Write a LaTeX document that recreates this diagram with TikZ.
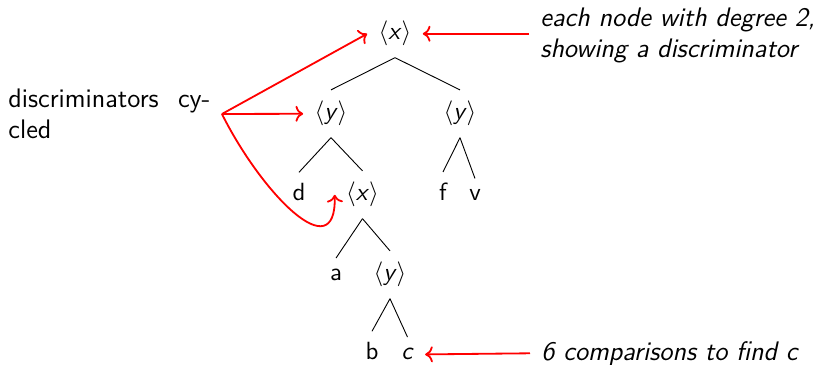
\documentclass[tikz,border=0pt,11pt]{standalone}
\usepackage{amsmath}
\usetikzlibrary{arrows.meta}
\newcommand{\dsc}[1]{$\langle$\textit{#1}$\rangle$}

\begin{document}
\begin{tikzpicture}[x=0.44pt, y=-0.44pt,
  every node/.style={font=\sffamily, inner sep=4.84pt},
  note/.style={font=\fontsize{11.8}{13.6}\selectfont\sffamily},
  slnote/.style={font=\fontsize{11.8}{13.6}\selectfont\sffamily\itshape},
  hint/.style={->, red, thick}]
  \useasboundingbox (0,0) rectangle (825,365);
  % tree
  \node[anchor=base] (rx) at (395,40) {\dsc{x}};
  \node[anchor=base] (ly) at (331,120) {\dsc{y}};
  \node[anchor=base] (ry) at (460,120) {\dsc{y}};
  \node[anchor=base] (d) at (299,201) {d};
  \node[anchor=base] (mx) at (362.5,201) {\dsc{x}};
  \node[anchor=base] (f) at (443,201) {f};
  \node[anchor=base] (v) at (475,201) {v};
  \node[anchor=base] (a) at (336,281) {a};
  \node[anchor=base] (lowy) at (390,281) {\dsc{y}};
  \node[anchor=base] (b) at (372,360) {b};
  \node[anchor=base] (c) at (407.5,360) {\textit{c}};
  \draw (rx.south) -- (ly.north);
  \draw (rx.south) -- (ry.north);
  \draw (ly.south) -- (d.north);
  \draw (ly.south) -- (mx.north);
  \draw (ry.south) -- (f.north);
  \draw (ry.south) -- (v.north);
  \draw (mx.south) -- (a.north);
  \draw (mx.south) -- (lowy.north);
  \draw (lowy.south) -- (b.north);
  \draw (lowy.south) -- (c.north);
  % notes
  \node[note, text width=88.9pt, align=left, anchor=west] (cyc) at (-3,114) {discriminators\hfill cy-\\cled};
  \node[slnote, align=left, anchor=west] (deg) at (529,35.5) {each node with degree 2,\\showing a discriminator};
  \node[slnote, anchor=west] (cmp) at (530,353.3) {6 comparisons to find c};
  \draw[hint] (cyc.east) -- (rx.west);
  \draw[hint] (cyc.east) -- (ly.west);
  \draw[hint] (cyc.east) .. controls +(40,80) and +(2,75) .. (mx.west);
  \draw[hint] (deg.west |- rx.east) -- (rx.east);
  \draw[hint] (cmp.west) -- (c.east);
\end{tikzpicture}
\end{document}
